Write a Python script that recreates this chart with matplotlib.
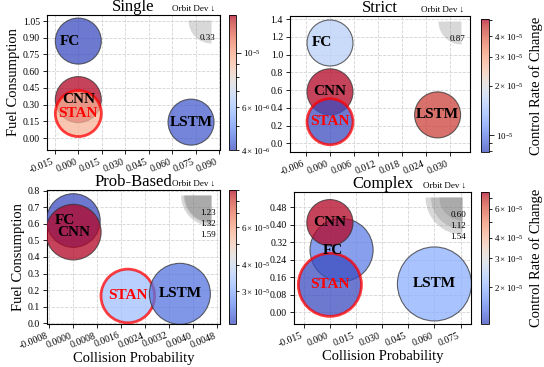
import numpy as np
import matplotlib
matplotlib.use('Agg')
import matplotlib.pyplot as plt
from matplotlib.colors import LogNorm
from matplotlib.path import Path
from matplotlib.ticker import MultipleLocator

plt.rcParams['font.family'] = ['Liberation Serif', 'DejaVu Serif']
plt.rcParams['mathtext.fontset'] = 'stix'
plt.rcParams['axes.unicode_minus'] = False

methods = ['FC', 'CNN', 'STAN', 'LSTM']

single_x = [0.0, 0.0, 0.0, 0.072]
single_y = [0.87, 0.345, 0.22, 0.143]
single_rate = [4.0e-6, 1.43e-5, 9.5e-6, 4.2e-6]
single_orbit = [0.33, 0.33, 0.33, 0.33]

strict_x = [0.0, 0.0, 0.0, 0.0269]
strict_y = [1.13, 0.58, 0.243, 0.32]
strict_rate = [1.6e-5, 5.1e-5, 7.9e-6, 4.5e-5]
strict_orbit = [0.87, 0.87, 0.87, 0.87]

prob_x = [0.0, 0.0, 0.00182, 0.00356]
prob_y = [0.62, 0.55, 0.165, 0.178]
prob_rate = [2.1e-5, 9.0e-5, 3.3e-5, 2.4e-5]
prob_orbit = [1.23, 1.32, 1.23, 1.59]

complex_x = [0.0067, 0.0, 0.0, 0.060]
complex_y = [0.285, 0.41, 0.126, 0.13]
complex_rate = [1.5e-5, 7.6e-5, 1.2e-5, 1.9e-5]
complex_orbit = [1.12, 0.60, 1.12, 1.54]

W, H = 544, 367
fig = plt.figure(figsize=(W / 100, H / 100), dpi=100)


def px_axes(x0, y0, x1, y1):
    return fig.add_axes([x0 / W, (H - y1) / H, (x1 - x0) / W, (y1 - y0) / H])


# panel setup: data, axes box, colorbar box, limits, tick steps, max bubble radius (px)
panels = [
    dict(title='Single', x=single_x, y=single_y, c=single_rate, o=single_orbit,
         box=(47, 15, 220, 150), cbox=(229, 15, 236, 150),
         xlim=(-0.020, 0.0905), ylim=(-0.107, 1.104), xstep=0.015, ystep=0.15, rmax=23,
         ylabel=True, xlabel=False, clabel=False),
    dict(title='Strict', x=strict_x, y=strict_y, c=strict_rate, o=strict_orbit,
         box=(290, 16, 470, 152), cbox=(481, 19, 489, 152),
         xlim=(-0.010, 0.035), ylim=(-0.098, 1.434), xstep=0.006, ystep=0.2, rmax=23,
         ylabel=False, xlabel=False, clabel=True),
    dict(title='Prob-Based', x=prob_x, y=prob_y, c=prob_rate, o=prob_orbit,
         box=(47, 190, 220, 324), cbox=(229, 190, 236, 324),
         xlim=(-0.00088, 0.0049), ylim=(-0.004, 0.804), xstep=0.0008, ystep=0.1, rmax=30.5,
         ylabel=True, xlabel=True, clabel=False),
    dict(title='Complex', x=complex_x, y=complex_y, c=complex_rate, o=complex_orbit,
         box=(294, 192, 471, 324), cbox=(481, 192, 489, 324),
         xlim=(-0.0206, 0.081), ylim=(-0.053, 0.55), xstep=0.015, ystep=0.08, rmax=37,
         ylabel=False, xlabel=True, clabel=True),
]

quarter = Path.wedge(180, 270)

for p in panels:
    ax = px_axes(*p['box'])
    cax = px_axes(*p['cbox'])
    orbit = np.array(p['o'])
    smax = (2 * 0.72 * p['rmax']) ** 2
    sizes = smax * orbit / orbit.max()
    edges = ['red' if m == 'STAN' else '#333333' for m in methods]
    lws = [2.0 if m == 'STAN' else 0.8 for m in methods]
    norm = LogNorm(vmin=min(p['c']), vmax=max(p['c']))
    sc = ax.scatter(p['x'], p['y'], s=sizes, c=p['c'], cmap='coolwarm', norm=norm,
                    alpha=0.75, edgecolors=edges, linewidths=lws, zorder=3)
    for m, xi, yi in zip(methods, p['x'], p['y']):
        off = (-6, 0) if m == 'FC' else (0, 0)
        ax.annotate(m, (xi, yi), xytext=off, textcoords='offset points',
                    ha='center', va='center', fontsize=11, fontweight='bold',
                    color='red' if m == 'STAN' else 'black', zorder=5)

    # orbit deviation size key in the top right corner
    levels = sorted(set(p['o']))
    for v in levels[::-1]:
        ax.scatter([0.95], [0.96], s=smax * v / orbit.max(), marker=quarter,
                   color='gray', alpha=0.3, linewidths=0, transform=ax.transAxes, zorder=4)
    for i, v in enumerate(levels):
        ax.annotate(f'{v:.2f}', (0.95, 0.96), xycoords='axes fraction',
                    xytext=(3, -12.5 - 8.2 * i), textcoords='offset points',
                    ha='right', va='center', fontsize=6.5, zorder=6)
    ax.text(0.97, 1.02, 'Orbit Dev ↓', transform=ax.transAxes,
            ha='right', va='bottom', fontsize=6.5)

    ax.set_xlim(p['xlim'])
    ax.set_ylim(p['ylim'])
    ax.xaxis.set_major_locator(MultipleLocator(p['xstep']))
    ax.yaxis.set_major_locator(MultipleLocator(p['ystep']))
    ax.tick_params(labelsize=7, length=3, width=0.6, pad=2)
    plt.setp(ax.get_xticklabels(), rotation=22, ha='right')
    ax.grid(True, linestyle='--', color='lightgray', linewidth=0.6, zorder=0)
    ax.set_axisbelow(True)
    ax.set_title(p['title'], fontsize=12, pad=3)
    if p['ylabel']:
        ax.set_ylabel('Fuel Consumption', fontsize=10.5, labelpad=2)
    if p['xlabel']:
        ax.set_xlabel('Collision Probability', fontsize=10.5, labelpad=1)

    cb = fig.colorbar(sc, cax=cax)
    cb.ax.tick_params(labelsize=6.5, which='both', width=0.6, pad=1.5)
    cb.outline.set_linewidth(0.6)
    if p['clabel']:
        cb.set_label('Control Rate of Change', fontsize=10.5)

fig.savefig('out.png', dpi=100)
